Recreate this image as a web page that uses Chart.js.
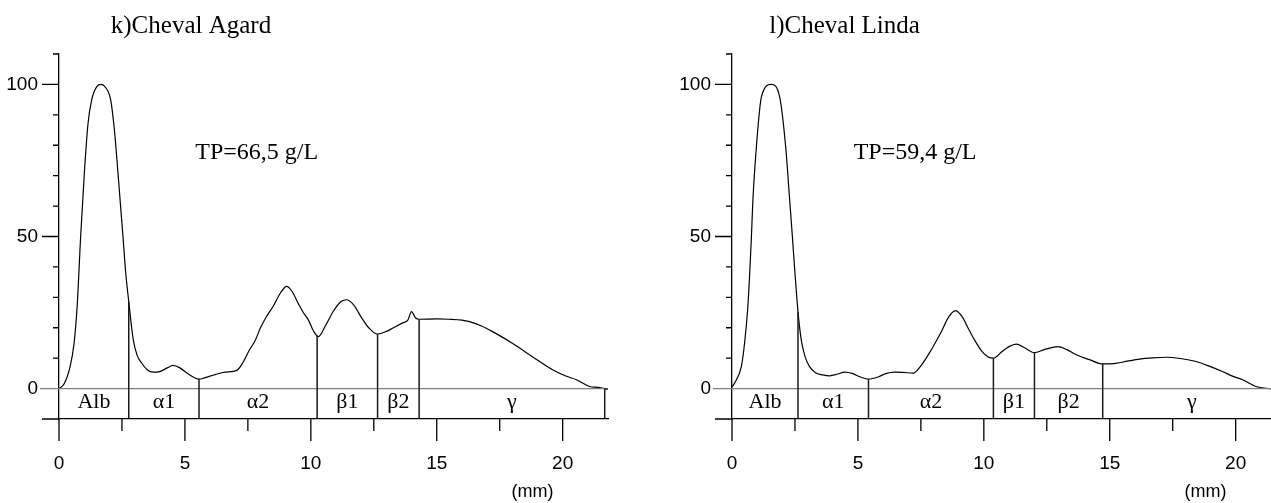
<!DOCTYPE html>
<html>
  <head>
    <script src="https://cdn.jsdelivr.net/npm/chart.js@4.4.0/dist/chart.umd.min.js"></script>
    <style>
      body {
        margin: 0;
        width: 1271px;
        height: 503px;
        overflow: hidden;
        background: #fff;
        position: relative;
      }
      .chart-container {
        position: absolute;
        top: 0;
        width: 673px;
        height: 503px;
      }
    </style>
  </head>
  <body>
    <div class="chart-container" style="left: 0px">
      <canvas id="agardChart"></canvas>
    </div>
    <div class="chart-container" style="left: 673px">
      <canvas id="lindaChart"></canvas>
    </div>
    <script>
      // Electrophoresis profile, horse Agard (distance in mm, relative intensity)
      var agardMm = [0, 0.2, 0.44, 0.6, 0.72, 0.86, 1.0, 1.15, 1.3, 1.5, 1.67, 1.85, 2.05, 2.2, 2.35, 2.54, 2.65, 2.77,
        2.95, 3.1, 3.28, 3.5, 3.74, 4.0, 4.3, 4.53, 4.8, 5.1, 5.4, 5.56, 5.8, 6.2, 6.6, 7.06, 7.3, 7.55, 7.8, 8.0,
        8.24, 8.5, 8.8, 9.04, 9.25, 9.5, 9.7, 9.9, 10.1, 10.3, 10.6, 10.9, 11.2, 11.42, 11.7, 12.0, 12.3, 12.65,
        13.0, 13.26, 13.65, 13.85, 14.0, 14.15, 14.3, 15.0, 15.5, 16.0, 16.3, 16.8, 17.2, 18.0, 18.8, 19.6, 20.1,
        20.55, 21.07, 21.4, 21.8];
      var agardVal = [0, 1.5, 7.2, 15, 27, 50, 70, 87, 95, 99.3, 100, 99, 95, 85, 70, 50, 38, 28.6,
        16, 11, 8.4, 6.2, 5.4, 5.6, 6.8, 7.6, 6.8, 5.0, 3.5, 3.1, 3.6, 4.6, 5.4, 6.0, 8.5, 12.5, 16, 20,
        23.7, 27, 31.5, 33.6, 32, 28, 25, 22.6, 19, 17.1, 21, 25.5, 28.6, 29.2, 27.5, 23.5, 20, 17.9,
        18.8, 19.9, 21.6, 22.5, 25.3, 23.3, 22.8, 22.9, 22.8, 22.5, 22.0, 20.5, 18.8, 14.9, 10.5, 6.2, 4.2,
        2.9, 0.7, 0.4, -0.2];
      var agardCuts = [2.77, 5.56, 10.25, 12.65, 14.3, 21.67];

      // Electrophoresis profile, horse Linda
      var lindaMm = [0, 0.1, 0.37, 0.5, 0.63, 0.77, 0.83, 0.97, 1.17, 1.56, 1.89, 2.13, 2.29, 2.4, 2.5, 2.62,
        2.75, 2.9, 3.08, 3.3, 3.6, 3.88, 4.2, 4.47, 4.8, 5.1, 5.42, 5.8, 6.1, 6.46, 6.8, 7.19, 7.5, 7.91, 8.3,
        8.6, 8.88, 9.15, 9.4, 9.63, 9.9, 10.16, 10.38, 10.7, 11.0, 11.29, 11.6, 12.01, 12.4, 12.94, 13.3, 13.67,
        14.2, 14.72, 15.25, 15.7, 16.18, 16.7, 17.24, 17.8, 18.43, 19.0, 19.47, 19.9, 20.28, 20.8, 21.34, 21.8];
      var lindaVal = [0.5, 1.8, 7.2, 15, 27, 49.7, 62, 79.6, 96, 100, 96, 79.6, 62, 49.7, 38, 25.3,
        16, 10.5, 7.2, 5.3, 4.5, 4.2, 4.8, 5.4, 4.9, 3.8, 3.1, 3.8, 4.9, 5.4, 5.3, 5.1, 7.5, 12.7, 18.5,
        23.5, 25.6, 23.5, 19.5, 16, 12.5, 10.5, 10.0, 12, 13.8, 14.6, 13.5, 11.8, 12.8, 13.8, 12.8, 11.1,
        9.5, 8.1, 8.3, 9.0, 9.7, 10.1, 10.3, 9.9, 8.9, 7.2, 5.6, 4.0, 2.9, 0.7, 0.0, -0.3];
      var lindaCuts = [2.62, 5.42, 10.38, 12.01, 14.72, 21.8];

      var fractionNames = ["Alb", "\u03b11", "\u03b12", "\u03b21", "\u03b22", "\u03b3"];
      var xTicks = [0, 5, 10, 15, 20];
      var yTicks = [0, 50, 100];

      var serif = "'Liberation Serif', 'Times New Roman', serif";
      var sans = "'Liberation Sans', Arial, sans-serif";

      // value of the profile at x, read linearly between samples
      function valueAt(xs, ys, x) {
        for (var i = 1; i < xs.length; i++) {
          if (x <= xs[i]) {
            var t = (x - xs[i - 1]) / (xs[i] - xs[i - 1]);
            return ys[i - 1] + t * (ys[i] - ys[i - 1]);
          }
        }
        return ys[ys.length - 1];
      }

      // axis ticks, fraction band, separators and texts
      var bandPlugin = {
        id: "bands",
        afterDraw: function (chart, args, opts) {
          var ctx = chart.ctx;
          var xs = chart.scales.x;
          var ys = chart.scales.y;
          var area = chart.chartArea;
          var cuts = opts.cuts;
          var yZero = ys.getPixelForValue(0);
          var yBase = ys.getPixelForValue(-10);
          ctx.save();

          // zero line across the plot
          ctx.strokeStyle = "#808080";
          ctx.lineWidth = 1.3;
          ctx.beginPath();
          ctx.moveTo(area.left - 19, yZero);
          ctx.lineTo(xs.getPixelForValue(cuts[cuts.length - 1]), yZero);
          ctx.stroke();

          ctx.strokeStyle = "#000";
          ctx.lineWidth = 1.3;
          ctx.beginPath();
          // y ticks pointing left
          ys.ticks.forEach(function (t) {
            if (t.value === 0) return;
            var len = t.value % 50 === 0 || t.value === -10 ? 17 : 6;
            var py = ys.getPixelForValue(t.value);
            ctx.moveTo(area.left - len, py);
            ctx.lineTo(area.left, py);
          });
          // x ticks pointing down
          xs.ticks.forEach(function (t) {
            var len = t.value % 5 === 0 ? 22 : 12;
            var px = xs.getPixelForValue(t.value);
            ctx.moveTo(px, area.bottom);
            ctx.lineTo(px, area.bottom + len);
          });
          ctx.stroke();

          // fraction separators, from the curve down to the band bottom
          ctx.strokeStyle = "#1a1a1a";
          ctx.lineWidth = 1.5;
          ctx.beginPath();
          cuts.forEach(function (c) {
            var top = Math.max(valueAt(opts.mm, opts.val, c), 0);
            var px = xs.getPixelForValue(c);
            ctx.moveTo(px, ys.getPixelForValue(top));
            ctx.lineTo(px, yBase);
          });
          ctx.stroke();

          // fraction names
          ctx.fillStyle = "#000";
          ctx.font = "22px " + serif;
          ctx.textAlign = "center";
          ctx.textBaseline = "middle";
          var prev = 0;
          cuts.forEach(function (c, i) {
            ctx.fillText(fractionNames[i], xs.getPixelForValue((prev + c) / 2), ys.getPixelForValue(-4.6));
            prev = c;
          });

          // title and total protein
          ctx.font = "25px " + serif;
          ctx.fillText(opts.title, xs.getPixelForValue(opts.titleX), ys.getPixelForValue(119));
          ctx.font = "24px " + serif;
          ctx.fillText(opts.tp, xs.getPixelForValue(opts.tpX), ys.getPixelForValue(77.7));

          // unit under the x axis
          ctx.font = "18px " + sans;
          ctx.fillText("(mm)", xs.getPixelForValue(18.8), area.bottom + 73);
          ctx.restore();
        },
      };

      function makeChart(id, mm, val, cuts, title, titleX, tp, tpX) {
        var points = mm.map(function (x, i) {
          return { x: x, y: val[i] };
        });
        var ctx = document.getElementById(id).getContext("2d");
        return new Chart(ctx, {
          type: "line",
          data: {
            datasets: [
              {
                data: points,
                borderColor: "#000",
                borderWidth: 1.2,
                pointRadius: 0,
                cubicInterpolationMode: "monotone",
                fill: false,
              },
            ],
          },
          plugins: [bandPlugin],
          options: {
            responsive: true,
            maintainAspectRatio: false,
            animation: false,
            layout: { padding: { top: 54, right: 65, left: 0, bottom: 0 } },
            plugins: {
              legend: { display: false },
              tooltip: { enabled: false },
              bands: { mm: mm, val: val, cuts: cuts, title: title, titleX: titleX, tp: tp, tpX: tpX },
            },
            scales: {
              x: {
                type: "linear",
                min: 0,
                max: 21.8,
                grid: { display: false, drawTicks: false },
                border: { display: true, color: "#000", width: 1.3 },
                ticks: {
                  stepSize: 2.5,
                  includeBounds: false,
                  maxRotation: 0,
                  autoSkip: false,
                  padding: 33,
                  color: "#000",
                  font: { family: sans, size: 19 },
                  callback: function (v) {
                    return xTicks.indexOf(v) >= 0 ? String(v) : "";
                  },
                },
                afterFit: function (scale) {
                  scale.height = 84;
                },
              },
              y: {
                type: "linear",
                min: -10,
                max: 110,
                grid: { display: false, drawTicks: false },
                border: { display: true, color: "#000", width: 1.3 },
                ticks: {
                  stepSize: 10,
                  autoSkip: false,
                  padding: 21,
                  color: "#000",
                  font: { family: sans, size: 19 },
                  callback: function (v) {
                    return yTicks.indexOf(v) >= 0 ? String(v) : "";
                  },
                },
                afterFit: function (scale) {
                  scale.width = 59;
                },
              },
            },
          },
        });
      }

      makeChart("agardChart", agardMm, agardVal, agardCuts, "k)Cheval Agard", 5.24, "TP=66,5 g/L", 7.85);
      makeChart("lindaChart", lindaMm, lindaVal, lindaCuts, "l)Cheval Linda", 4.47, "TP=59,4 g/L", 7.27);
    </script>
  </body>
</html>
